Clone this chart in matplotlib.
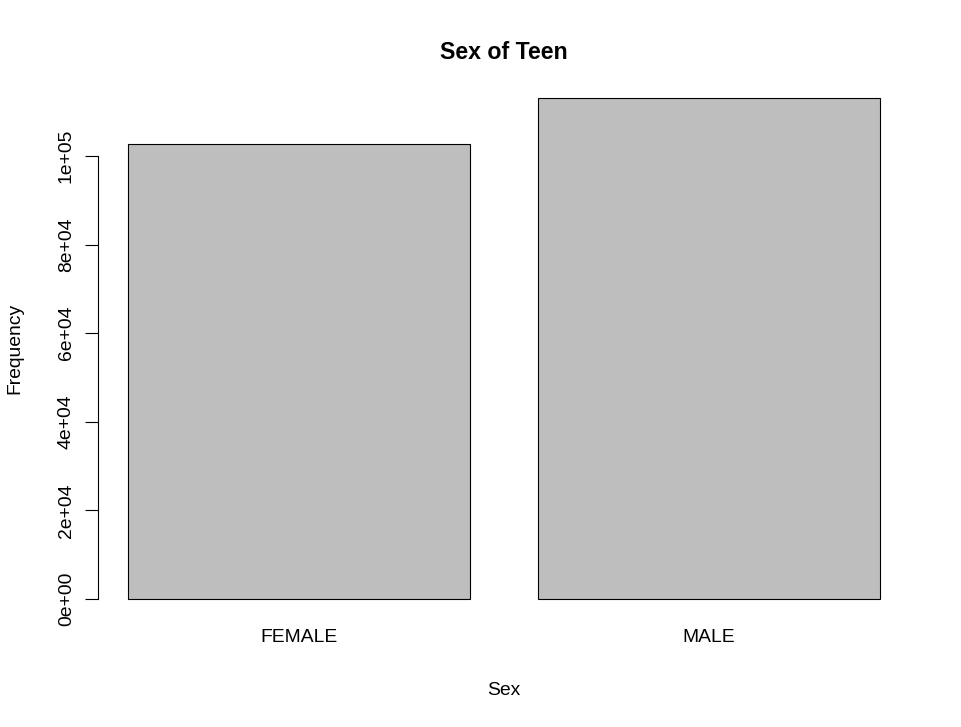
import numpy as np
import matplotlib
matplotlib.use("Agg")
import matplotlib.pyplot as plt

# counts by sex
categories = ["FEMALE", "MALE"]
counts = [102700, 113100]
yticks = [0, 20000, 40000, 60000, 80000, 100000]
ytick_labels = ["0e+00", "2e+04", "4e+04", "6e+04", "8e+04", "1e+05"]

plt.rcParams['font.family'] = ['Liberation Sans', 'DejaVu Sans']
fs = 13.9

fig = plt.figure(figsize=(9.61, 7.27), dpi=100)
ax = fig.add_axes([98 / 961, 108 / 727, 812 / 961, 541 / 727])

# R barplot layout: width 1, space 0.2
lefts = 0.2 + np.arange(len(counts)) * 1.2
ax.bar(lefts, counts, width=1.0, align='edge', color='#BEBEBE',
       edgecolor='black', linewidth=0.8)

xmin, xmax = lefts[0], lefts[-1] + 1.0
ext = 0.04 * (xmax - xmin)
ax.set_xlim(xmin - ext, xmax + ext)
ymax = max(counts)
ax.set_ylim(-0.04 * ymax, ymax * 1.04)

for s in ['top', 'right', 'bottom']:
    ax.spines[s].set_visible(False)
ax.spines['left'].set_bounds(0, 100000)
ax.spines['left'].set_linewidth(0.8)

ax.set_xticks(lefts + 0.5)
ax.set_xticklabels(categories, fontsize=fs)
ax.tick_params(axis='x', length=0, pad=7.2)

ax.set_yticks(yticks)
ax.set_yticklabels(ytick_labels, fontsize=fs, rotation=90, va='center')
ax.tick_params(axis='y', length=9.4, width=0.8, pad=7.2)

ax.set_title("Sex of Teen", fontsize=fs * 1.2, fontweight='bold', pad=13.7)
ax.set_xlabel("Sex", fontsize=fs, va='center')
ax.xaxis.set_label_coords(0.5, -0.133)
ax.set_ylabel("Frequency", fontsize=fs, va='center')
ax.yaxis.set_label_coords(-0.102, 0.5)

fig.savefig("out.png", dpi=100)
